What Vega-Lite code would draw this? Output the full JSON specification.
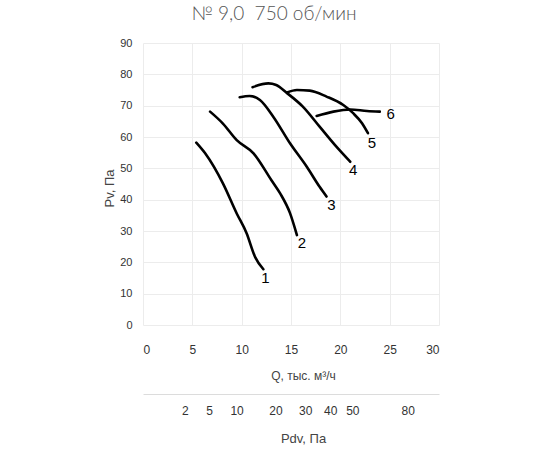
{
  "$schema": "https://vega.github.io/schema/vega-lite/v6.json",
  "width": 296,
  "height": 282,
  "autosize": {"type": "none"},
  "padding": {"left": 143, "top": 43, "right": 111, "bottom": 125},
  "background": "white",
  "config": {
    "view": {"stroke": null},
    "font": "Liberation Sans",
    "axis": {"labelFont": "Liberation Sans", "titleFont": "Liberation Sans", "labelColor": "#333", "titleColor": "#444", "titleFontWeight": "normal"}
  },
  "title": {
    "text": "№ 9,0 \u00a0750 об/мин",
    "font": "Lato",
    "fontWeight": 300,
    "fontSize": 19,
    "color": "#555",
    "anchor": "middle",
    "dx": -17,
    "offset": 13
  },
  "datasets": {
    "curves": [
      {"curve": "1", "Q": 5.4, "Pv": 58.2},
      {"curve": "1", "Q": 6.3, "Pv": 54.8},
      {"curve": "1", "Q": 8.1, "Pv": 45.2},
      {"curve": "1", "Q": 9.5, "Pv": 35.6},
      {"curve": "1", "Q": 10.5, "Pv": 29.3},
      {"curve": "1", "Q": 11.35, "Pv": 21.8},
      {"curve": "1", "Q": 12.2, "Pv": 17.8},
      {"curve": "2", "Q": 6.8, "Pv": 68.1},
      {"curve": "2", "Q": 8.1, "Pv": 64.3},
      {"curve": "2", "Q": 9.5, "Pv": 59.0},
      {"curve": "2", "Q": 11.2, "Pv": 54.8},
      {"curve": "2", "Q": 13.0, "Pv": 46.3},
      {"curve": "2", "Q": 13.9, "Pv": 42.0},
      {"curve": "2", "Q": 14.9, "Pv": 35.7},
      {"curve": "2", "Q": 15.6, "Pv": 28.7},
      {"curve": "3", "Q": 9.8, "Pv": 72.7},
      {"curve": "3", "Q": 10.8, "Pv": 73.1},
      {"curve": "3", "Q": 11.85, "Pv": 71.8},
      {"curve": "3", "Q": 13.2, "Pv": 66.5},
      {"curve": "3", "Q": 14.9, "Pv": 58.0},
      {"curve": "3", "Q": 16.6, "Pv": 50.5},
      {"curve": "3", "Q": 17.9, "Pv": 44.1},
      {"curve": "3", "Q": 18.6, "Pv": 41.0},
      {"curve": "4", "Q": 11.1, "Pv": 75.9},
      {"curve": "4", "Q": 12.7, "Pv": 77.1},
      {"curve": "4", "Q": 13.5, "Pv": 76.6},
      {"curve": "4", "Q": 14.6, "Pv": 74.0},
      {"curve": "4", "Q": 16.2, "Pv": 69.7},
      {"curve": "4", "Q": 17.9, "Pv": 63.3},
      {"curve": "4", "Q": 19.6, "Pv": 56.9},
      {"curve": "4", "Q": 21.0, "Pv": 52.1},
      {"curve": "5", "Q": 14.6, "Pv": 74.2},
      {"curve": "5", "Q": 15.6, "Pv": 75.0},
      {"curve": "5", "Q": 16.9, "Pv": 74.8},
      {"curve": "5", "Q": 18.6, "Pv": 72.9},
      {"curve": "5", "Q": 20.3, "Pv": 70.2},
      {"curve": "5", "Q": 21.3, "Pv": 67.6},
      {"curve": "5", "Q": 22.2, "Pv": 64.4},
      {"curve": "5", "Q": 22.8, "Pv": 61.2},
      {"curve": "6", "Q": 17.6, "Pv": 66.7},
      {"curve": "6", "Q": 19.3, "Pv": 68.1},
      {"curve": "6", "Q": 21.0, "Pv": 68.8},
      {"curve": "6", "Q": 22.7, "Pv": 68.3},
      {"curve": "6", "Q": 24.0, "Pv": 68.1}
    ],
    "labels": [
      {"curve": "1", "Q": 12.4, "Pv": 15.0},
      {"curve": "2", "Q": 16.1, "Pv": 26.1},
      {"curve": "3", "Q": 19.1, "Pv": 38.3},
      {"curve": "4", "Q": 21.3, "Pv": 49.5},
      {"curve": "5", "Q": 23.2, "Pv": 58.2},
      {"curve": "6", "Q": 25.1, "Pv": 67.2}
    ],
    "pdv": [
      {"Pdv": 2}, {"Pdv": 5}, {"Pdv": 10}, {"Pdv": 20},
      {"Pdv": 30}, {"Pdv": 40}, {"Pdv": 50}, {"Pdv": 80}
    ]
  },
  "layer": [
    {
      "encoding": {
        "x": {
          "field": "Q", "type": "quantitative",
          "scale": {"domain": [0, 30], "nice": false},
          "axis": {
            "title": "Q, тыс. м³/ч",
            "values": [0, 5, 10, 15, 20, 25, 30],
            "domain": false, "ticks": false,
            "labelPadding": 19, "labelFontSize": 12,
            "gridColor": "#ececec",
            "titleFontSize": 12, "titleX": 160, "titleY": 50, "titleBaseline": "middle", "titleAnchor": null
          }
        },
        "y": {
          "field": "Pv", "type": "quantitative",
          "scale": {"domain": [0, 90], "nice": false},
          "axis": {
            "title": "Pv, Па",
            "values": [0, 10, 20, 30, 40, 50, 60, 70, 80, 90],
            "labelOverlap": false,
            "domain": false, "ticks": false,
            "labelPadding": 11, "labelFontSize": 11,
            "gridColor": "#ececec",
            "titleFontSize": 13, "titleX": -34, "titleY": 145, "titleBaseline": "middle", "titleAnchor": null
          }
        }
      },
      "layer": [
        {
          "data": {"name": "curves"},
          "mark": {"type": "line", "color": "black", "strokeWidth": 2.6, "interpolate": "monotone", "strokeCap": "round"},
          "encoding": {"detail": {"field": "curve"}}
        },
        {
          "data": {"name": "labels"},
          "mark": {"type": "text", "fontSize": 15, "color": "black", "font": "Liberation Sans"},
          "encoding": {"text": {"field": "curve"}}
        }
      ]
    },
    {
      "data": {"name": "pdv"},
      "mark": {"type": "point", "opacity": 0},
      "encoding": {
        "x": {
          "field": "Pdv", "type": "quantitative",
          "scale": {"type": "sqrt", "domain": [0, 100], "nice": false},
          "axis": {
            "orient": "bottom",
            "offset": 69,
            "title": "Pdv, Па",
            "values": [2, 5, 10, 20, 30, 40, 50, 80],
            "labelOverlap": false,
            "grid": false,
            "domain": true, "domainColor": "#dcdcdc",
            "ticks": false,
            "labelPadding": 11, "labelFontSize": 12,
            "titleFontSize": 13, "titleX": 160, "titleY": 44, "titleBaseline": "middle", "titleAnchor": null
          }
        }
      }
    }
  ],
  "resolve": {"scale": {"x": "independent"}}
}
